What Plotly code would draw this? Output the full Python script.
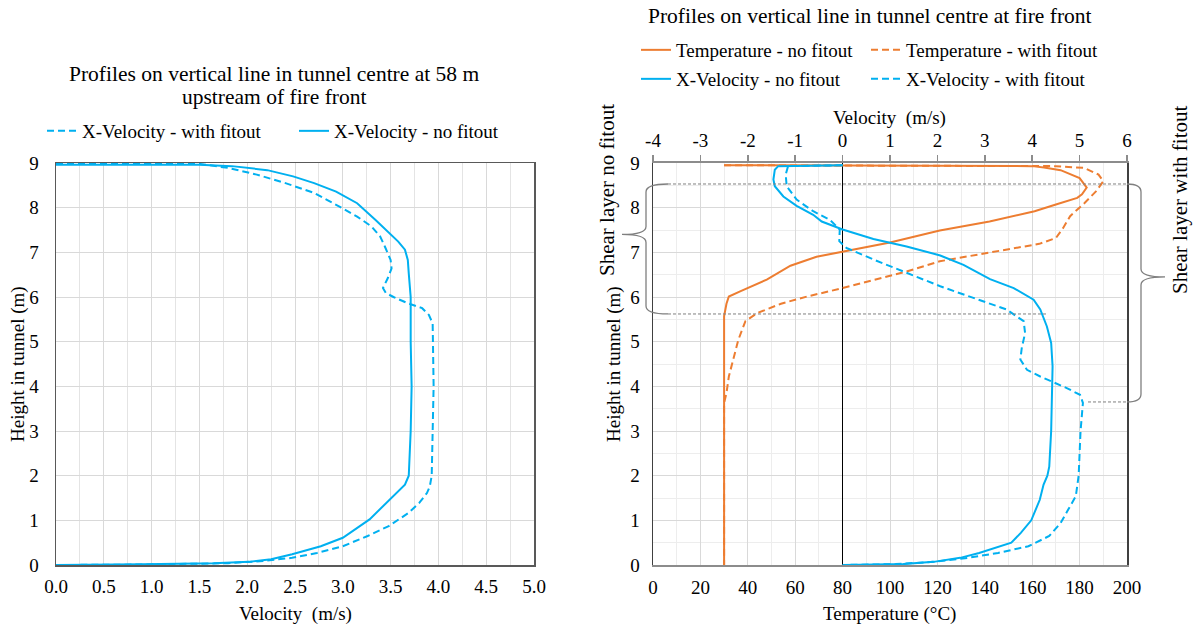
import plotly.graph_objects as go

W, H = 1195, 627

# ---------------- data ----------------
# Left chart: 58 m upstream of fire front (velocity m/s vs height m)
left_h_nofit = [8.96, 8.96, 8.93, 8.84, 8.70, 8.55, 8.36, 8.10, 7.73, 7.43, 7.24, 7.06, 6.83, 6.53,
                6.0, 5.0, 4.0, 3.0, 2.0, 1.80, 1.61, 1.39, 1.02, 0.61, 0.42, 0.24, 0.13, 0.07, 0.04,
                0.015, 0.0]
left_v_nofit = [0.0, 1.5, 1.84, 2.21, 2.48, 2.70, 2.93, 3.15, 3.34, 3.49, 3.58, 3.65, 3.68, 3.69,
                3.71, 3.71, 3.72, 3.71, 3.69, 3.65, 3.56, 3.46, 3.28, 3.00, 2.77, 2.47, 2.25, 2.02, 1.65,
                0.9, 0.0]
left_h_fit = [8.98, 8.98, 8.89, 8.74, 8.55, 8.33, 8.03, 7.80, 7.58, 7.36, 7.13, 6.83, 6.64, 6.42,
              6.20, 6.09, 6.0, 5.86, 5.75, 5.60, 5.41, 4.0, 3.0, 2.0, 1.76, 1.61, 1.39, 1.17, 0.87,
              0.65, 0.42, 0.27, 0.16, 0.09, 0.04, 0.01, 0.0]
left_v_fit = [0.0, 1.5, 1.8, 2.1, 2.4, 2.7, 2.96, 3.15, 3.30, 3.39, 3.44, 3.50, 3.51, 3.47,
              3.42, 3.45, 3.53, 3.68, 3.83, 3.90, 3.94, 3.95, 3.94, 3.93, 3.91, 3.88, 3.80, 3.69, 3.48,
              3.26, 3.00, 2.73, 2.47, 2.17, 1.8, 0.9, 0.0]

# Right chart: at fire front
temp_h_nofit = [8.95, 8.93, 8.90, 8.84, 8.66, 8.45, 8.30, 8.22, 8.07, 7.92, 7.69, 7.49, 7.22, 7.02,
                6.90, 6.70, 6.39, 6.13, 6.01, 5.85, 5.57, 4.5, 3.0, 1.5, 0.0]
temp_T_nofit = [30, 160, 165, 172, 180, 183, 181, 179, 170, 161, 142, 121, 100, 80,
                69, 58, 48, 37, 32, 31, 30, 30, 30, 30, 30]
temp_h_fit = [8.95, 8.93, 8.89, 8.74, 8.59, 8.37, 8.10, 7.81, 7.54, 7.32, 7.19, 7.06, 6.93, 6.80,
              6.57, 6.37, 6.20, 6.01, 5.85, 5.64, 5.46, 5.04, 4.60, 4.22, 3.85, 3.63, 2.5, 1.0, 0.0]
temp_T_fit = [30, 170, 182, 188, 190, 187, 182, 176, 173, 170, 163, 149, 135, 121,
              107, 93, 80, 65, 54, 44, 39, 36, 34, 32, 31, 30, 30, 30, 30]
vel_h_nofit = [8.95, 8.93, 8.85, 8.63, 8.48, 8.25, 8.04, 7.84, 7.69, 7.51, 7.30, 7.13, 6.93, 6.72,
               6.40, 6.20, 5.94, 5.72, 5.34, 4.97, 4.45, 3.6, 3.0, 2.2, 2.0, 1.8, 1.46, 1.0, 0.72,
               0.5, 0.27, 0.16, 0.07, 0.02, 0.0]
vel_v_nofit = [0.0, -1.36, -1.43, -1.46, -1.43, -1.25, -0.97, -0.62, -0.44, 0.0, 0.65, 1.35, 2.06, 2.55,
               3.11, 3.61, 4.03, 4.17, 4.31, 4.40, 4.43, 4.42, 4.40, 4.36, 4.32, 4.24, 4.16, 3.98, 3.76,
               3.56, 2.88, 2.48, 1.92, 1.28, 0.0]
vel_h_fit = [8.95, 8.93, 8.74, 8.48, 8.18, 7.92, 7.73, 7.51, 7.25, 7.10, 6.84, 6.54, 6.24, 5.98,
             5.72, 5.46, 5.19, 4.86, 4.60, 4.37, 4.22, 3.96, 3.81, 3.63, 3.0, 2.0, 1.54, 1.24, 0.94,
             0.65, 0.42, 0.27, 0.16, 0.07, 0.02, 0.0]
vel_v_fit = [0.0, -1.15, -1.20, -1.18, -0.97, -0.62, -0.27, -0.06, -0.07, 0.08, 0.65, 1.35, 2.06, 2.76,
             3.46, 3.82, 3.85, 3.78, 3.75, 3.89, 4.17, 4.73, 5.01, 5.07, 5.02, 4.98, 4.92, 4.76, 4.60,
             4.36, 3.92, 3.28, 2.64, 1.92, 1.12, 0.0]

# tick labels of the top velocity axis
top_tickvals = [-4, -3, -2, -1, 0, 1, 2, 3, 4, 5, 6]
top_ticktext = ["-4", "-3", "-2", "-1", "0", "1", "2", "3", "4", "5", "6"]

# shear layer extents (height, m)
shear_nofit = [5.62, 8.53]
shear_fit = [3.65, 8.53]
shear_tip_nofit = 7.40
shear_tip_fit = 6.45

# ---------------- style ----------------
BLUE = "#00B0F0"
ORANGE = "#ED7D31"
FONT = "Liberation Serif"
DASH = "7px,4px"


def px(x):
    return x / W


def py(y):
    return 1 - y / H


XL = [px(56), px(534)]
XR = [px(653), px(1127)]
YD = [py(565), py(163)]


def hy(h):
    return YD[0] + h / 9.0 * (YD[1] - YD[0])


def leg(xp, yp):
    return dict(x=px(xp), y=py(yp), xanchor="left", yanchor="middle", orientation="h",
                bgcolor="rgba(0,0,0,0)", font=dict(family=FONT, size=19, color="#000"),
                itemwidth=30, borderwidth=0)


fig = go.Figure()
fig.add_trace(go.Scatter(x=left_v_fit, y=left_h_fit, mode="lines", name="X-Velocity - with fitout",
                         line=dict(color=BLUE, width=2, dash=DASH), xaxis="x", yaxis="y",
                         legend="legend"))
fig.add_trace(go.Scatter(x=left_v_nofit, y=left_h_nofit, mode="lines", name="X-Velocity - no fitout",
                         line=dict(color=BLUE, width=2), xaxis="x", yaxis="y", legend="legend2"))
fig.add_trace(go.Scatter(x=temp_T_nofit, y=temp_h_nofit, mode="lines", name="Temperature - no fitout",
                         line=dict(color=ORANGE, width=2), xaxis="x2", yaxis="y2", legend="legend3"))
fig.add_trace(go.Scatter(x=temp_T_fit, y=temp_h_fit, mode="lines", name="Temperature - with fitout",
                         line=dict(color=ORANGE, width=2, dash=DASH), xaxis="x2", yaxis="y2",
                         legend="legend4"))
fig.add_trace(go.Scatter(x=vel_v_nofit, y=vel_h_nofit, mode="lines", name="X-Velocity - no fitout",
                         line=dict(color=BLUE, width=2), xaxis="x3", yaxis="y2", legend="legend5"))
fig.add_trace(go.Scatter(x=vel_v_fit, y=vel_h_fit, mode="lines", name="X-Velocity - with fitout",
                         line=dict(color=BLUE, width=2, dash=DASH), xaxis="x3", yaxis="y2",
                         legend="legend6"))

tickfont = dict(family=FONT, size=19, color="#000")
GRID = "#D9D9D9"
MINOR = "#EDEDED"

fig.update_layout(
    width=W, height=H, autosize=False,
    margin=dict(l=0, r=0, t=0, b=0, pad=0, autoexpand=False),
    paper_bgcolor="white", plot_bgcolor="white",
    font=dict(family=FONT, size=19, color="#000"),
    showlegend=True,
    xaxis=dict(domain=XL, anchor="y", range=[0, 5], dtick=0.5, tickformat=".1f",
               showgrid=True, gridcolor=GRID, gridwidth=1,
               minor=dict(dtick=0.25, showgrid=True, gridcolor="#E4E4E4"),
               showline=True, linecolor="#595959", linewidth=1.5, mirror=True,
               zeroline=False, ticks="", tickfont=tickfont, ticklabelstandoff=4,
               automargin=False, fixedrange=True),
    yaxis=dict(domain=YD, anchor="x", range=[0, 9], dtick=1, showgrid=True, gridcolor=GRID,
               showline=True, linecolor="#595959", linewidth=1.5, mirror=True,
               zeroline=False, ticks="", tickfont=tickfont, ticklabelstandoff=12,
               automargin=False, fixedrange=True),
    xaxis2=dict(domain=XR, anchor="y2", range=[0, 200], dtick=20,
                showgrid=True, gridcolor=GRID, gridwidth=1,
                minor=dict(dtick=10, showgrid=True, gridcolor=MINOR),
                showline=True, linecolor="#8C8C8C", linewidth=2,
                zeroline=False, ticks="", tickfont=tickfont, ticklabelstandoff=4,
                automargin=False, fixedrange=True),
    xaxis3=dict(overlaying="x2", anchor="y2", side="top", range=[-4, 6],
                tickmode="array", tickvals=top_tickvals, ticktext=top_ticktext,
                showgrid=False, showline=True, linecolor="#8C8C8C", linewidth=2,
                zeroline=True, zerolinecolor="#000000", zerolinewidth=1.2,
                ticks="outside", ticklen=6, tickcolor="#8C8C8C", tickwidth=1.5,
                tickfont=tickfont, ticklabelstandoff=0, automargin=False, fixedrange=True),
    yaxis2=dict(domain=YD, anchor="x2", range=[0, 9], dtick=1, showgrid=True, gridcolor=GRID,
                minor=dict(dtick=0.5, showgrid=True, gridcolor=MINOR),
                showline=True, linecolor="#404040", linewidth=1.5, mirror=True,
                zeroline=False, ticks="", tickfont=tickfont, ticklabelstandoff=8,
                automargin=False, fixedrange=True),
    legend=leg(42, 131),
    legend2=leg(294, 131),
    legend3=leg(636, 50),
    legend4=leg(866, 50),
    legend5=leg(636, 79),
    legend6=leg(866, 79),
)

# ---------------- text annotations ----------------
def ann(text, x, y, size=19, angle=0):
    fig.add_annotation(text=text, x=px(x), y=py(y), xref="paper", yref="paper", showarrow=False,
                       xanchor="center", yanchor="middle", textangle=angle,
                       font=dict(family=FONT, size=size, color="#000"))


ann("Profiles on vertical line in tunnel centre at 58 m", 274, 74, 21.5)
ann("upstream of fire front", 274, 97, 21.5)
ann("Profiles on vertical line in tunnel centre at fire front", 870, 16, 21.5)
ann("Velocity  (m/s)", 295, 614)
ann("Temperature (°C)", 890, 614)
ann("Velocity  (m/s)", 890, 118)
ann("Height in tunnel (m)", 18, 364, 19, -90)
ann("Height in tunnel (m)", 614, 364, 19, -90)
ann("Shear layer no fitout", 607, 190, 21, -90)
ann("Shear layer with fitout", 1180, 200, 21, -90)

# ---------------- shear layer braces & guide lines ----------------
GRAY = "#7F7F7F"


def P(x, yp):
    return f"{px(x):.5f},{yp:.5f}"


def brace(x_arm, x_body, x_tip, h_bot, h_top, h_tip):
    yt, yb, ym = hy(h_top), hy(h_bot), hy(h_tip)
    d = (YD[1] - YD[0]) / 402 * 8  # ~8 px in paper units
    return ("M " + P(x_arm, yt) + " Q " + P(x_body, yt) + " " + P(x_body, yt - d) +
            " L " + P(x_body, ym + d) + " Q " + P(x_body, ym) + " " + P(x_tip, ym) +
            " Q " + P(x_body, ym) + " " + P(x_body, ym - d) +
            " L " + P(x_body, yb + d) + " Q " + P(x_body, yb) + " " + P(x_arm, yb))


fig.add_shape(type="path", xref="paper", yref="paper",
              path=brace(668, 646, 622, shear_nofit[0], shear_nofit[1], shear_tip_nofit),
              line=dict(color=GRAY, width=1.3))
fig.add_shape(type="path", xref="paper", yref="paper",
              path=brace(1127, 1141, 1165, shear_fit[0], shear_fit[1], shear_tip_fit),
              line=dict(color=GRAY, width=1.3))

for x0, x1, h in [(668, 1127, shear_nofit[1]), (668, 1047, shear_nofit[0]), (1088, 1127, shear_fit[0])]:
    fig.add_shape(type="line", xref="paper", yref="paper", x0=px(x0), x1=px(x1), y0=hy(h), y1=hy(h),
                  line=dict(color=GRAY, width=1, dash="3px,2px"))

fig.write_html("out.html", config={"displayModeBar": False, "staticPlot": True},
               post_script="document.body.style.margin='0px';document.body.style.overflow='hidden';")
